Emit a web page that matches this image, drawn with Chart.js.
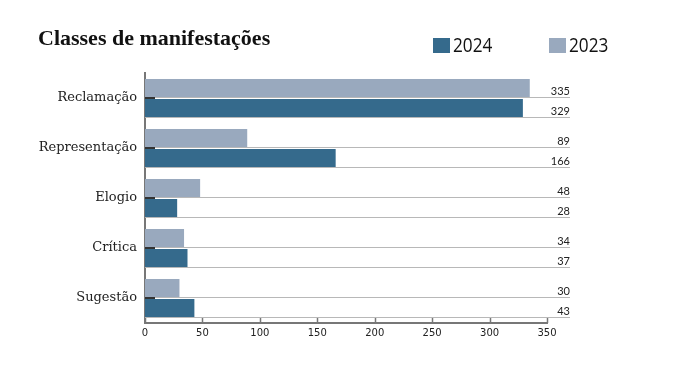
<!DOCTYPE html>
<html lang="pt">
<head>
<meta charset="utf-8">
<title>Classes de manifestações</title>
<script src="https://cdn.jsdelivr.net/npm/chart.js@4"></script>
<style>
  html, body { margin: 0; padding: 0; background: #fff; }
  canvas { display: block; }
</style>
</head>
<body>
<canvas id="grafico" width="691" height="374"></canvas>
<script>
const categorias = ['Reclamação', 'Representação', 'Elogio', 'Crítica', 'Sugestão'];
const valores2024 = [329, 166, 28, 37, 43];
const valores2023 = [335, 89, 48, 34, 30];
const ticksX = [0, 50, 100, 150, 200, 250, 300, 350];

const corEscura = '#356a8c';
const corClara = '#99a9be';

// linhas cinzas sob cada barra, numeros a direita, marcas dos eixos, titulo e legenda
const extras = {
    id: 'extras',
    beforeDatasetsDraw(chart) {
        const ctx = chart.ctx;
        const area = chart.chartArea;
        ctx.save();
        ctx.strokeStyle = '#b8b8b8';
        ctx.lineWidth = 1;
        chart.data.datasets.forEach((ds, i) => {
            chart.getDatasetMeta(i).data.forEach(bar => {
                const p = bar.getProps(['y', 'height'], true);
                const y = Math.round(p.y + p.height / 2) + 0.5;
                ctx.beginPath();
                ctx.moveTo(area.left, y);
                ctx.lineTo(area.right + 23, y);
                ctx.stroke();
            });
        });
        ctx.restore();
    },
    afterDatasetsDraw(chart) {
        const ctx = chart.ctx;
        const area = chart.chartArea;
        ctx.save();
        ctx.font = '11px Lato';
        ctx.fillStyle = '#222';
        ctx.textAlign = 'right';
        ctx.textBaseline = 'alphabetic';
        chart.data.datasets.forEach((ds, i) => {
            chart.getDatasetMeta(i).data.forEach((bar, j) => {
                const p = bar.getProps(['y', 'height'], true);
                ctx.fillText(ds.data[j], area.right + 23, p.y + p.height / 2 - 2.5);
            });
        });

        // marcas para dentro no eixo y
        const sy = chart.scales.y;
        ctx.strokeStyle = '#333';
        ctx.lineWidth = 2;
        sy.ticks.forEach((t, i) => {
            const y = Math.round(sy.getPixelForTick(i));
            ctx.beginPath();
            ctx.moveTo(area.left, y);
            ctx.lineTo(area.left + 10, y);
            ctx.stroke();
        });

        // marcas para dentro no eixo x
        const sx = chart.scales.x;
        ctx.strokeStyle = '#777';
        ctx.lineWidth = 1.5;
        sx.ticks.forEach((t, i) => {
            const x = Math.round(sx.getPixelForTick(i)) + 0.5;
            ctx.beginPath();
            ctx.moveTo(x, area.bottom - 5);
            ctx.lineTo(x, area.bottom);
            ctx.stroke();
        });
        ctx.restore();
    },
    afterDraw(chart) {
        const ctx = chart.ctx;
        ctx.save();
        ctx.fillStyle = '#111';
        ctx.font = 'bold 22px "Liberation Serif"';
        ctx.textAlign = 'left';
        ctx.textBaseline = 'alphabetic';
        ctx.fillText('Classes de manifestações', 38, 45);

        // legenda: 2024 primeiro
        const itens = [
            { texto: '2024', cor: corEscura, x: 433 },
            { texto: '2023', cor: corClara, x: 549 }
        ];
        ctx.font = '20px "Open Sans"';
        itens.forEach(it => {
            ctx.fillStyle = it.cor;
            ctx.fillRect(it.x, 38, 17, 15);
            ctx.fillStyle = '#111';
            ctx.save();
            ctx.translate(it.x + 20, 52);
            ctx.scale(0.86, 1);   // fonte mais estreita como no original
            ctx.fillText(it.texto, 0, 0);
            ctx.restore();
        });
        ctx.restore();
    }
};

const ctx = document.getElementById('grafico').getContext('2d');
new Chart(ctx, {
    type: 'bar',
    data: {
        labels: categorias,
        datasets: [
            {
                label: '2023',
                data: valores2023,
                backgroundColor: corClara,
                categoryPercentage: 0.8,
                barPercentage: 0.9
            },
            {
                label: '2024',
                data: valores2024,
                backgroundColor: corEscura,
                categoryPercentage: 0.8,
                barPercentage: 0.9
            }
        ]
    },
    options: {
        indexAxis: 'y',
        responsive: false,
        animation: false,
        layout: {
            padding: { top: 73, right: 144, bottom: 0, left: 0 }
        },
        plugins: {
            legend: { display: false },
            title: { display: false },
            tooltip: { enabled: false }
        },
        scales: {
            x: {
                min: ticksX[0],
                max: ticksX[ticksX.length - 1],
                afterBuildTicks: scale => {
                    scale.ticks = ticksX.map(v => ({ value: v }));
                },
                grid: { display: false, drawTicks: false },
                border: { display: true, color: '#777', width: 2 },
                ticks: {
                    padding: 4,
                    color: '#222',
                    font: { family: 'DejaVu Sans', size: 10 }
                },
                afterFit: scale => { scale.height = 51; }
            },
            y: {
                grid: { display: false, drawTicks: false },
                border: { display: true, color: '#777', width: 2 },
                ticks: {
                    padding: 8,
                    color: '#222',
                    font: { family: 'DejaVu Serif', size: 13 }
                },
                afterFit: scale => { scale.width = 145; }
            }
        }
    },
    plugins: [extras]
});
</script>
</body>
</html>
